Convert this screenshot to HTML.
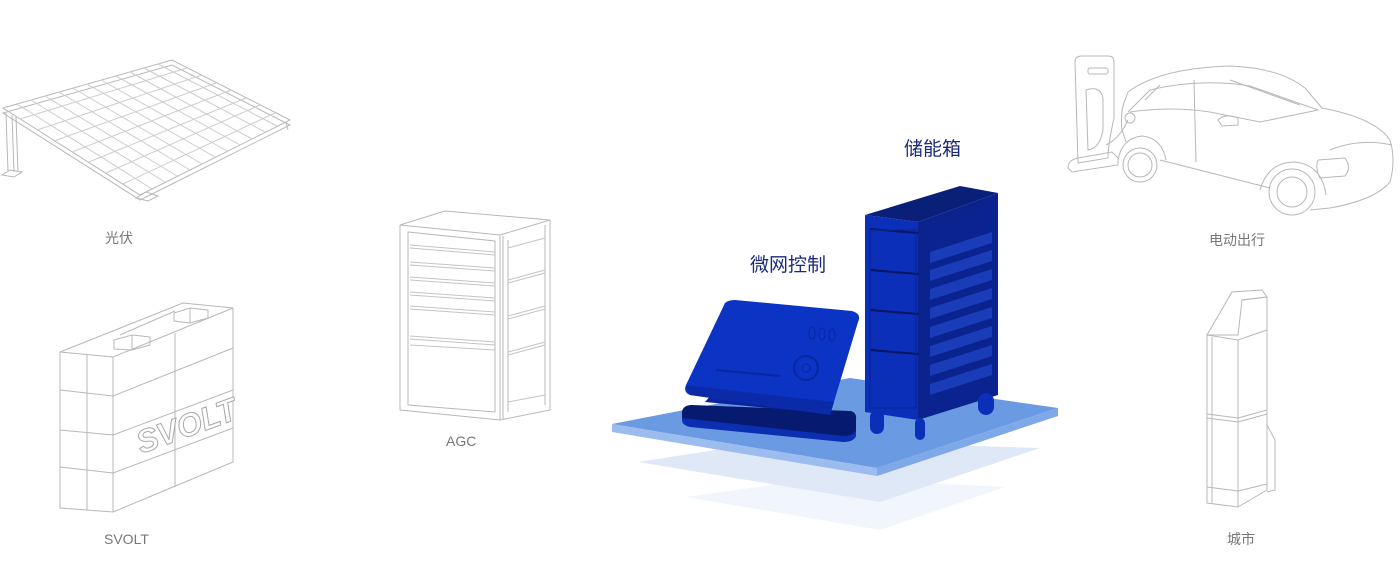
<!DOCTYPE html>
<html><head><meta charset="utf-8"><style>
html,body{margin:0;padding:0;background:#fff;width:1400px;height:586px;overflow:hidden}
svg{display:block}
text{font-family:"Liberation Sans","Noto Sans CJK SC",sans-serif}
</style></head><body>
<svg width="1400" height="586" viewBox="0 0 1400 586" xmlns="http://www.w3.org/2000/svg">
<g fill="none" stroke="#b8b8b8" stroke-width="1">
 <!-- solar -->
 <polygon points="3,108 172,60 290,120 140,195"/>
 <polygon points="3,113 172,65 290,125 140,200"/>
 <g stroke="#cdcdcd">
  <line x1="20" y1="119" x2="187" y2="68"/><line x1="37" y1="130" x2="202" y2="75"/>
  <line x1="54" y1="141" x2="216" y2="83"/><line x1="72" y1="152" x2="231" y2="90"/>
  <line x1="89" y1="162" x2="246" y2="98"/><line x1="106" y1="173" x2="260" y2="105"/>
  <line x1="123" y1="184" x2="275" y2="113"/>
  <line x1="17" y1="104" x2="152" y2="189"/><line x1="31" y1="100" x2="165" y2="182"/>
  <line x1="45" y1="96" x2="177" y2="176"/><line x1="59" y1="92" x2="190" y2="170"/>
  <line x1="73" y1="88" x2="202" y2="164"/><line x1="87" y1="84" x2="215" y2="157"/>
  <line x1="101" y1="80" x2="227" y2="151"/><line x1="116" y1="76" x2="240" y2="145"/>
  <line x1="130" y1="72" x2="252" y2="139"/><line x1="144" y1="68" x2="265" y2="132"/>
  <line x1="158" y1="64" x2="277" y2="126"/>
 </g>
 <line x1="6" y1="113" x2="8" y2="172"/><line x1="12" y1="115" x2="14" y2="172"/><line x1="16" y1="117" x2="18" y2="172"/>
 <polygon points="2,175 10,170 22,172 14,177"/>
 <polygon points="136,198 146,192 158,196 148,201"/>
 <line x1="286" y1="123" x2="288" y2="130"/>
 <!-- battery -->
 <polygon points="60,352 183,303 233,308 113,357"/>
 <polyline points="60,352 60,508 113,512 233,462 233,308"/>
 <line x1="113" y1="357" x2="113" y2="512"/><line x1="87" y1="354" x2="87" y2="510"/>
 <line x1="175" y1="333" x2="175" y2="486"/>
 <line x1="60" y1="390" x2="113" y2="396"/><line x1="113" y1="396" x2="233" y2="348"/>
 <line x1="60" y1="430" x2="113" y2="435"/><line x1="113" y1="435" x2="233" y2="390"/>
 <line x1="60" y1="467" x2="113" y2="473"/><line x1="113" y1="473" x2="233" y2="428"/>
 <line x1="120" y1="335" x2="175" y2="311"/>
 <polygon points="114,340 132,335 150,337 150,345 132,350 114,349"/>
 <line x1="132" y1="335" x2="132" y2="350"/>
 <polygon points="174,313 190,308 208,310 208,318 190,323 174,321"/>
 <line x1="190" y1="308" x2="190" y2="323"/>
 <!-- AGC -->
 <polygon points="400,225 445,211 550,220 500,235"/>
 <polyline points="400,225 400,410 500,420 550,410 550,220"/>
 <line x1="500" y1="235" x2="500" y2="420"/><line x1="503" y1="236" x2="503" y2="419"/>
 <polygon points="408,232 495,241 495,412 408,405"/>
 <line x1="508" y1="240" x2="508" y2="412"/><line x1="545" y1="225" x2="545" y2="405"/>
 <g stroke="#c4c4c4">
 <line x1="410" y1="245" x2="495" y2="252"/><line x1="410" y1="248" x2="495" y2="255"/>
 <line x1="410" y1="262" x2="495" y2="268"/><line x1="410" y1="265" x2="495" y2="271"/>
 <line x1="410" y1="277" x2="495" y2="283"/><line x1="410" y1="280" x2="495" y2="286"/>
 <line x1="410" y1="292" x2="495" y2="298"/><line x1="410" y1="295" x2="495" y2="301"/>
 <line x1="410" y1="306" x2="495" y2="312"/><line x1="410" y1="309" x2="495" y2="315"/>
 <line x1="410" y1="336" x2="495" y2="342"/><line x1="410" y1="339" x2="495" y2="345"/>
 <line x1="410" y1="345" x2="495" y2="350"/>
 <line x1="508" y1="248" x2="545" y2="238"/>
 <line x1="508" y1="280" x2="545" y2="270"/><line x1="508" y1="283" x2="545" y2="273"/>
 <line x1="508" y1="316" x2="545" y2="306"/><line x1="508" y1="319" x2="545" y2="309"/>
 <line x1="508" y1="352" x2="545" y2="342"/><line x1="508" y1="355" x2="545" y2="345"/>
 <line x1="508" y1="402" x2="545" y2="395"/>
 </g>
 <!-- charger -->
 <path d="M1075,62 Q1075,56 1082,56 L1108,56 Q1114,56 1114,62 L1114,118 Q1108,145 1108,158 L1078,163 Z"/>
 <rect x="1088" y="68" width="20" height="6" rx="2"/>
 <path d="M1086,90 Q1100,85 1103,98 L1103,130 Q1100,148 1088,150 Z"/>
 <path d="M1068,168 Q1068,160 1078,158 L1112,152 L1118,158 L1118,165 L1072,172 Z"/>
 <path d="M1106,145 Q1120,138 1128,120"/><circle cx="1130" cy="118" r="5"/>
 <!-- car -->
 <path d="M1128,92 Q1160,68 1230,66 Q1280,68 1305,88 L1322,108 Q1375,118 1390,140 Q1396,160 1390,182 Q1375,200 1330,208 L1310,210"/>
 <path d="M1128,92 L1125,100 Q1120,112 1122,130 L1126,142"/>
 <path d="M1160,160 L1270,188"/>
 <path d="M1128,112 L1150,90 Q1200,78 1250,86 L1318,110 L1260,122 L1210,112 Q1170,106 1130,112"/>
 <line x1="1194" y1="80" x2="1196" y2="162"/>
 <path d="M1145,100 L1160,85"/><path d="M1230,80 L1300,105"/>
 <path d="M1218,120 Q1225,113 1238,118 L1238,125 L1222,126 Z"/>
 <path d="M1330,150 Q1360,138 1392,145"/>
 <path d="M1318,160 L1345,158 Q1352,168 1345,176 L1320,178 Q1315,168 1318,160"/>
 <path d="M1118,160 Q1122,138 1142,136 Q1162,138 1166,160"/>
 <circle cx="1140" cy="165" r="17"/><circle cx="1140" cy="165" r="12"/>
 <path d="M1260,190 Q1268,162 1295,162 Q1322,165 1326,195"/>
 <circle cx="1292" cy="192" r="23"/><circle cx="1292" cy="192" r="15"/>
 <!-- tower -->
 <polygon points="1207,335 1232,292 1262,290 1267,297 1242,300 1238,335"/>
 <polyline points="1242,300 1267,297 1267,338"/>
 <polygon points="1207,335 1238,340 1267,330 1267,490 1238,507 1207,503"/>
 <line x1="1238" y1="340" x2="1238" y2="507"/><line x1="1212" y1="337" x2="1212" y2="503"/>
 <line x1="1207" y1="414" x2="1238" y2="418"/><line x1="1238" y1="418" x2="1267" y2="410"/>
 <line x1="1207" y1="418" x2="1238" y2="422"/><line x1="1238" y1="422" x2="1267" y2="414"/>
 <line x1="1207" y1="487" x2="1238" y2="491"/><line x1="1238" y1="491" x2="1267" y2="484"/>
 <polyline points="1267,425 1275,440 1275,490 1267,492"/>
</g>
<text x="130" y="440" font-size="32" font-style="italic" font-weight="bold" fill="#fff" stroke="#a8a8a8" stroke-width="1" transform="rotate(-20 175 415)">SVOLT</text>
<!-- platform -->
<polygon points="686,497 820,478 1005,487 880,530" fill="#f1f5fc"/>
<polygon points="638,462 780,440 1040,448 880,502" fill="#dfe8f7"/>
<polygon points="612,424 850,378 1058,408 877,468" fill="#6a9ae2"/>
<polygon points="612,424 877,468 877,476 612,432" fill="#9cbcef"/>
<polygon points="877,468 1058,408 1058,416 877,476" fill="#7fa8e8"/>
<!-- console -->
<path d="M682,412 Q683,405 692,405 L850,411 Q857,412 856,420 L856,432 Q854,440 843,441 L690,426 Q682,424 682,418 Z" fill="#061a70"/>
<path d="M682,418 L843,436 Q854,436 856,430 L856,436 Q854,442 843,442 L690,427 Q682,425 682,420 Z" fill="#0b2fb0"/>
<path d="M705,402 L832,414 L822,404 L712,394 Z" fill="#0a24a0"/>
<path d="M725,303 Q728,300 735,300 L852,311 Q862,314 858,322 L830,415 L690,395 Q683,392 686,385 Z" fill="#0b33c4"/>
<path d="M686,385 L690,395 L830,415 L834,402 Q760,394 686,385 Z" fill="#0a2aa8"/>
<line x1="716" y1="370" x2="780" y2="376" stroke="#0826a0" stroke-width="2"/>
<circle cx="806" cy="368" r="12" fill="none" stroke="#0826a0" stroke-width="2"/>
<circle cx="806" cy="368" r="4" fill="none" stroke="#0826a0"/>
<g fill="none" stroke="#0826a0"><ellipse cx="812" cy="333" rx="3" ry="6"/><ellipse cx="822" cy="334" rx="3" ry="6"/><ellipse cx="832" cy="335" rx="3" ry="6"/></g>
<!-- rack -->
<polygon points="865,215 960,186 998,193 918,222" fill="#0a1f78"/>
<polygon points="918,222 998,193 998,395 918,420" fill="#0b238e"/>
<polygon points="865,215 918,222 918,420 865,412" fill="#0b2fb8"/>
<g fill="#1a3cb8">
 <polygon points="930,252 992,232 992,243 930,263"/><polygon points="930,270 992,250 992,261 930,281"/>
 <polygon points="930,289 992,269 992,280 930,300"/><polygon points="930,308 992,288 992,299 930,319"/>
 <polygon points="930,327 992,307 992,318 930,338"/><polygon points="930,346 992,326 992,337 930,357"/>
 <polygon points="930,365 992,345 992,356 930,376"/><polygon points="930,384 992,364 992,375 930,395"/>
</g>
<g stroke="#061660" stroke-width="2">
 <line x1="870" y1="229" x2="918" y2="233"/><line x1="870" y1="270" x2="918" y2="274"/>
 <line x1="870" y1="310" x2="918" y2="314"/><line x1="870" y1="350" x2="918" y2="354"/>
</g>
<rect x="870" y="230" width="46" height="178" fill="none" stroke="#0a2590"/>
<g fill="#0b2fb8">
 <rect x="870" y="410" width="14" height="24" rx="7"/><rect x="915" y="418" width="10" height="22" rx="5"/><rect x="978" y="393" width="16" height="22" rx="8"/>
</g>
<!-- labels -->
<g font-size="14" fill="#777">
 <text x="105" y="243">光伏</text>
 <text x="104" y="544">SVOLT</text>
 <text x="446" y="446">AGC</text>
 <text x="1209" y="245">电动出行</text>
 <text x="1227" y="544">城市</text>
</g>
<g font-size="19" fill="#1b2a7a">
 <text x="904" y="155">储能箱</text>
 <text x="750" y="271">微网控制</text>
</g>
</svg>
</body></html>
